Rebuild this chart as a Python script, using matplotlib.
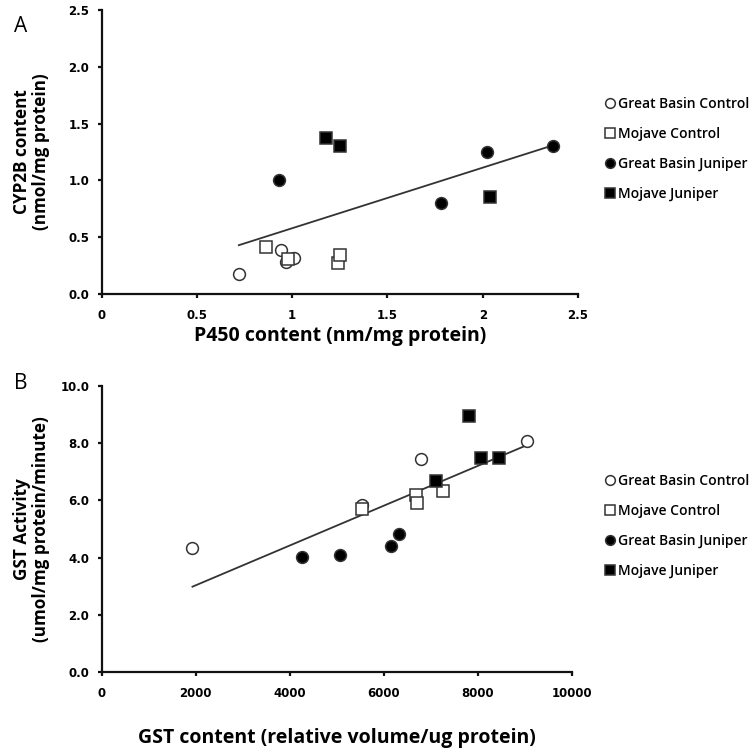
import numpy as np
import matplotlib
matplotlib.use("Agg")
import matplotlib.pyplot as plt
from matplotlib.lines import Line2D

plt.rcParams['font.family'] = ['Open Sans', 'DejaVu Sans']

groups = ["Great Basin Control", "Mojave Control", "Great Basin Juniper", "Mojave Juniper"]

# Panel A: P450 content vs CYP2B content
a_gbc_x = [0.72, 0.94, 0.97, 1.01]
a_gbc_y = [0.18, 0.39, 0.28, 0.32]
a_mc_x = [0.86, 0.98, 1.24, 1.25]
a_mc_y = [0.41, 0.31, 0.27, 0.34]
a_gbj_x = [0.93, 1.78, 2.02, 2.37]
a_gbj_y = [1.00, 0.80, 1.25, 1.30]
a_mj_x = [1.18, 1.25, 2.04]
a_mj_y = [1.37, 1.30, 0.85]
a_trend = [0.533, 0.046]   # slope, intercept of the drawn trend line

# Panel B: GST content vs GST activity
b_gbc_x = [1930, 5530, 6780, 9050]
b_gbc_y = [4.35, 5.84, 7.44, 8.08]
b_mc_x = [5530, 6680, 6700, 7250]
b_mc_y = [5.69, 6.19, 5.90, 6.34]
b_gbj_x = [4250, 5070, 6150, 6330]
b_gbj_y = [4.03, 4.09, 4.41, 4.83]
b_mj_x = [7100, 7820, 8070, 8450]
b_mj_y = [6.68, 8.95, 7.49, 7.49]
b_trend = [0.000696, 1.64]

a_xticks = [0, 0.5, 1, 1.5, 2, 2.5]
a_xticklabels = ["0", "0.5", "1", "1.5", "2", "2.5"]
a_yticks = [0.0, 0.5, 1.0, 1.5, 2.0, 2.5]
a_yticklabels = ["0.0", "0.5", "1.0", "1.5", "2.0", "2.5"]
b_xticks = [0, 2000, 4000, 6000, 8000, 10000]
b_xticklabels = ["0", "2000", "4000", "6000", "8000", "10000"]
b_yticks = [0, 2, 4, 6, 8, 10]
b_yticklabels = ["0.0", "2.0", "4.0", "6.0", "8.0", "10.0"]

edge = "#333333"
styles = [
    dict(marker="o", mfc="white"),
    dict(marker="s", mfc="white"),
    dict(marker="o", mfc="black"),
    dict(marker="s", mfc="black"),
]

fig = plt.figure(figsize=(7.5, 7.5), dpi=100)
axA = fig.add_axes([0.1356, 0.608, 0.635, 0.3787])
axB = fig.add_axes([0.1356, 0.104, 0.627, 0.3813])


def style_ax(ax):
    for s in ["top", "right"]:
        ax.spines[s].set_visible(False)
    for s in ["left", "bottom"]:
        ax.spines[s].set_linewidth(1.6)
        ax.spines[s].set_color("#111111")
    ax.tick_params(direction="out", length=3, width=1.6, color="#111111",
                   labelsize=8.5, pad=6)
    ax.tick_params(axis="x", pad=8)
    for lab in ax.get_xticklabels() + ax.get_yticklabels():
        lab.set_fontweight("bold")
        lab.set_family("DejaVu Sans")


def draw(ax, xs, ys, trend):
    for (x, y), st in zip(zip(xs, ys), styles):
        ax.plot(x, y, linestyle="none", marker=st["marker"], markersize=8.5,
                markerfacecolor=st["mfc"], markeredgecolor=edge, markeredgewidth=1.1,
                zorder=3)
    allx = np.concatenate([np.asarray(v, float) for v in xs])
    lx = np.array([allx.min(), allx.max()])
    ax.plot(lx, trend[0] * lx + trend[1], color="#333333", linewidth=1.3, zorder=2)


draw(axA, [a_gbc_x, a_mc_x, a_gbj_x, a_mj_x], [a_gbc_y, a_mc_y, a_gbj_y, a_mj_y], a_trend)
axA.set_xlim(0, 2.5)
axA.set_ylim(0, 2.5)
axA.set_xticks(a_xticks)
axA.set_xticklabels(a_xticklabels)
axA.set_yticks(a_yticks)
axA.set_yticklabels(a_yticklabels)
style_ax(axA)
axA.set_xlabel("P450 content (nm/mg protein)", fontsize=14, fontweight="bold", labelpad=3)
axA.set_ylabel("CYP2B content\n(nmol/mg protein)", fontsize=12.3, fontweight="bold",
               linespacing=1.1)
axA.yaxis.set_label_coords(-51.7 / (0.635 * 750), 0.5)

draw(axB, [b_gbc_x, b_mc_x, b_gbj_x, b_mj_x], [b_gbc_y, b_mc_y, b_gbj_y, b_mj_y], b_trend)
axB.set_xlim(0, 10000)
axB.set_ylim(0, 10)
axB.set_xticks(b_xticks)
axB.set_xticklabels(b_xticklabels)
axB.set_yticks(b_yticks)
axB.set_yticklabels(b_yticklabels)
style_ax(axB)
axB.set_xlabel("GST content (relative volume/ug protein)", fontsize=14, fontweight="bold", labelpad=20)
axB.set_ylabel("GST Activity\n(umol/mg protein/minute)", fontsize=12.3, fontweight="bold",
               linespacing=1.1)
axB.yaxis.set_label_coords(-51.7 / (0.627 * 750), 0.5)

handles = [Line2D([], [], linestyle="none", marker=st["marker"], markersize=7,
                  markerfacecolor=st["mfc"], markeredgecolor=edge, markeredgewidth=1.1)
           for st in styles]

for ax, ycen in [(axA, 149), (axB, 526)]:
    fig.legend(handles, groups, loc="center left",
               bbox_to_anchor=(603 / 750, 1 - ycen / 750),
               frameon=False, handletextpad=0.1, handlelength=1.0,
               labelspacing=1.15, prop=dict(size=10, weight="semibold"),
               borderaxespad=0, borderpad=0)

fig.text(14 / 750, 1 - 26 / 750, "A", fontsize=15, va="center", ha="left")
fig.text(14 / 750, 1 - 383 / 750, "B", fontsize=15, va="center", ha="left")

fig.savefig("out.png", dpi=100, facecolor="white")
